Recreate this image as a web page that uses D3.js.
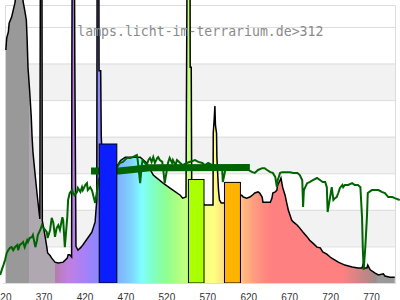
<!DOCTYPE html>
<html lang="en">
<head>
<meta charset="UTF-8" />
<title>lamp spectrum</title>
<script src="https://d3js.org/d3.v7.min.js"></script>
<style>
  body{margin:0;background:#fff;}
  svg{display:block;}
  .axis text{font-family:"Liberation Sans",Arial,sans-serif;font-size:10px;fill:#333;}
  .grid{stroke:#dcdcdc;stroke-width:1;}
  .lamp{fill:none;stroke:#000;stroke-width:1.5;}
  .sun{fill:none;stroke:#006400;stroke-width:2;}
  .avg{fill:none;stroke:#006400;stroke-width:7;}
  .bar{stroke:#000;stroke-width:1;}
  .mark{font-family:"DejaVu Sans Mono",monospace;font-size:13.2px;fill:#8a8a8a;}
</style>
</head>
<body>
<script>
var width = 400, height = 300;

// lamp spectrum (wavelength nm / relative value)
var lampNm = [324,324,325,327,328,331,333,335,338,341,344,345,347,349,350,351,353,355,356,357,358,360,362,364,365.5,366.2,368,368.5,369.5,372,374,375,378,380,384,388,394,399,400,402,404.3,404.6,405.1,407.6,408.2,409.6,412,415,418,424,429,433,435,435.5,437.5,437.8,439.8,440.5,442,460,464,470,476,488,496,504,516,528,537,540,544,545.5,548.9,549.1,550.4,551,556,566,567,577,577.3,578.5,579.3,580,581.3,581.7,582.9,583.7,584.9,587,590,600,612,614,618,622,625,628,632,634,637,638,643,647,649,650,653,655,656,659,660,662,665,667,669,671,673,675,680,683,687,692,695,699,704,708,711,716,720,722,730,738,747,754,759,760,761,765,766,769,775,779,785,787,793,799,799];
var lampVal = [0,63.7,67,68.6,71,72.7,74.6,76.5,82,90,90,77,74.6,71.9,66.4,59,52.7,45.4,39.9,36,33.6,29,24.6,20.5,17.5,95,95,17,15.8,12.6,9.8,8.2,7.5,6.8,5.7,5.5,5.7,6.8,7.7,7.7,7.1,60,95,95,60,10,9,9.6,10.4,12.3,13.9,16.7,22.7,95,95,58,58,40,33,32,33.5,34.4,34.4,34.4,32.8,29.5,27.3,25.4,24,23.2,23.5,95,95,59,59,25,23,21.5,21.3,21.3,41,45,48.4,43,41,34.5,29,25.4,22.7,21.9,21.9,23,24,23.5,23.2,23.5,24,24.6,24.9,24.6,23.5,22.1,22.1,22.1,23.2,24.6,24.9,25.4,26.8,28.1,28.7,26.2,24,21.9,19.9,18.6,17.2,16.7,15.8,15,13.9,12.6,11.7,10.9,9.8,9.6,8.5,7.9,7.1,6.8,5.7,4.9,4.4,4.1,4.1,4.9,4.1,4.1,4.9,3.6,2.7,2.2,2.5,1.9,1.6,1.6,0];

// daylight reference line
var sunNm = [317,319,321,323,325,327,329,331,333,335,338,339,341,344,345,347,350,351,353,356,357,360,362,363,366,368,369,372,374,375,378,380,382,384,386,388,390,393,394,396,399,400,402,405,406,408,411,412,415,417,418,421,423,424,427,429,430,433,435,437,445,455,460,463,467,472,476,479,484,485,488,490,491,494,496,498,500,502,504,506,509,510,512,515,516,518,521,522,524,527,528,531,533,537,540,545,555,559,564,567,571,576,579,583,588,589,592,595,604,612,620,625,628,632,637,640,643,647,650,653,655,656,659,662,667,671,675,680,683,686,687,688,692,695,699,704,708,711,714,716,717,720,722,724,726,728,730,732,735,736,738,742,747,750,754,757,759,760,761,763,765,766,771,779,783,787,791,796,799,805];
var sunVal = [2.2,3.6,4.9,6.3,8.2,9,9.6,9.8,9,9.8,10.4,9,10.4,10.9,11.2,9.8,11.7,11.2,12.3,12.6,13.1,9.8,11.7,13.1,14.5,15.8,15.3,14.5,13.9,12.3,14.5,17.8,16.4,12.6,15,15.8,14.5,18,17.2,9.8,18,22.7,24.6,25.4,24.6,24,24.9,26,24.9,26.2,25.4,26.8,27.3,25.4,26.2,25.4,24.6,21.9,24.6,28.1,31,32,31.7,32.8,33.1,34.2,34.2,34.4,35,33.6,27.3,32.2,33.6,32.8,32.2,33.6,34.2,33.1,34.4,32.8,34.2,34.4,33.6,33.1,31.4,27.3,31.4,32.8,34.2,32.8,33.6,32.2,33.6,32.8,32.2,32.8,33.6,33.1,32.8,32.2,32.8,32.2,31.7,31.4,31.7,27.6,30.9,31.4,30.9,31.4,30.9,30.3,30.1,30.9,31.4,31.4,30.9,30.3,30.1,29,26.2,28.1,30.1,30.3,30.3,30.3,30.1,30.1,29.5,28.1,20.8,25.4,27.3,27.6,28.1,28.7,28.1,27.6,27.6,26.2,19.4,23.5,26.2,22.7,23.2,23.5,24.6,26,26.8,26.2,26.8,26.8,27.3,26.8,26.8,26.2,18,9,3.6,9.8,18,24.6,25.4,25.4,24.9,24.6,23.5,23.5,23.2,22.7];

// thick mean line
var avgNm = [428, 462, 500, 622];
var avgVal = [30.6, 30.6, 31.5, 31.6];

// bars
var barFrom = [438, 547, 591];
var barTo = [459.5, 566, 610.5];
var barVal = [38, 28.3, 27.5];
var barColor = ["#0a1eff", "#aaff00", "#ffb400"];

var tickNm = [320, 370, 420, 470, 520, 570, 620, 670, 720, 770];
var gridVal = [10, 20, 30, 40, 50, 60, 70];
var bandLo = [10, 30, 50];

// fill colours along the wavelength axis
var specNm = [317,352.5,352.6,383.5,384,400,420,436,460,476,490,505,520,535,548,565,578,590,612,625,640,650,735,776.5,777,805];
var specCol = ["#999999","#999999","#b0a8b0","#b0a8b0","#b47cae","#c080e0","#a880f8","#8c88ff","#80b0ff","#80d0ff","#80ffff","#80ffc0","#90ff90","#b0ff80","#c8ff80","#f0ff80","#ffff80","#ffe080","#ffc080","#ffa080","#ff8880","#ff8080","#ff8080","#a08a8a","#999999","#999999"];

var x = d3.scaleLinear().domain([320, 800]).range([2.6, 395.6]);
var y = d3.scaleLinear().domain([0, 76]).range([283, 5]);

var svg = d3.select("body").append("svg").attr("width", width).attr("height", height);

// bands + grid
svg.selectAll(".band").data(bandLo).enter().append("rect")
  .attr("x", 5).attr("width", 390)
  .attr("y", function(d){ return y(d + 10); })
  .attr("height", function(d){ return y(d) - y(d + 10); })
  .attr("fill", "#f2f2f2");
svg.selectAll(".grid").data(gridVal).enter().append("line")
  .attr("class", "grid")
  .attr("x1", 5).attr("x2", 395)
  .attr("y1", function(d){ return y(d) + 0.5; })
  .attr("y2", function(d){ return y(d) + 0.5; });
svg.append("path").attr("class", "grid").attr("fill", "none")
  .attr("d", "M5.5,283V5.5H395.5V283");

// gradient
var grad = svg.append("defs").append("linearGradient")
  .attr("id", "spec").attr("gradientUnits", "userSpaceOnUse")
  .attr("x1", x(317)).attr("x2", x(805)).attr("y1", 0).attr("y2", 0);
specNm.forEach(function(n, i){
  grad.append("stop")
    .attr("offset", (x(n) - x(317)) / (x(805) - x(317)))
    .attr("stop-color", specCol[i]);
});

var lamp = lampNm.map(function(n, i){ return {nm: n, v: lampVal[i]}; });
var sun = sunNm.map(function(n, i){ return {nm: n, v: sunVal[i]}; });
var avg = avgNm.map(function(n, i){ return {nm: n, v: avgVal[i]}; });

var area = d3.area()
  .x(function(d){ return x(d.nm); })
  .y0(y(0))
  .y1(function(d){ return y(d.v); });
var line = d3.line()
  .x(function(d){ return x(d.nm); })
  .y(function(d){ return y(d.v); });

svg.append("path").datum(lamp).attr("d", area).attr("fill", "url(#spec)");
svg.append("path").datum(lamp.slice(1, -1)).attr("class", "lamp").attr("d", line);

svg.append("path").datum(sun).attr("class", "sun").attr("d", line);
svg.append("path").datum(avg).attr("class", "avg").attr("d", line);

svg.selectAll(".bar").data(barVal).enter().append("rect")
  .attr("class", "bar")
  .attr("x", function(d, i){ return x(barFrom[i]); })
  .attr("width", function(d, i){ return x(barTo[i]) - x(barFrom[i]); })
  .attr("y", function(d){ return y(d); })
  .attr("height", function(d){ return y(0) - y(d); })
  .attr("fill", function(d, i){ return barColor[i]; });

// x axis
var ax = svg.append("g").attr("class", "axis")
  .attr("transform", "translate(0,283)")
  .call(d3.axisBottom(x).tickValues(tickNm).tickFormat(d3.format("d")).tickSize(0).tickPadding(10.5));
ax.select(".domain").attr("stroke", "#dcdcdc");

svg.append("text").attr("class", "mark")
  .attr("x", 77.3).attr("y", 36)
  .text("lamps.licht-im-terrarium.de>312");
</script>
</body>
</html>
